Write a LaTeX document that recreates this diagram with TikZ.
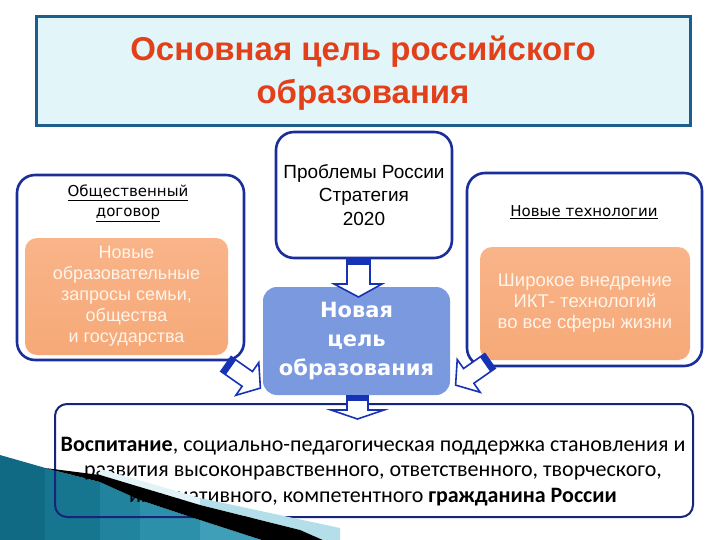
\documentclass[tikz,border=0pt]{standalone}
\usepackage{fontspec}
\setmainfont{Liberation Sans}
\newfontfamily\dvs{DejaVu Sans}
\newfontfamily\carl{Carlito}
\definecolor{titlered}{HTML}{E2401A}
\definecolor{titlefill}{HTML}{E2F5F8}
\definecolor{titleborder}{HTML}{1D5F8C}
\definecolor{boxblue}{HTML}{1A2E9A}
\definecolor{orangefill}{HTML}{F6A978}
\definecolor{orangetop}{HTML}{F9B489}
\definecolor{goalblue}{HTML}{7B99DF}
\definecolor{arrowblue}{HTML}{1733B5}
\definecolor{softwhite}{HTML}{FFF4EA}
\definecolor{tA}{HTML}{116A83}
\definecolor{tB}{HTML}{17768F}
\definecolor{tC}{HTML}{21839D}
\definecolor{tD}{HTML}{2D90AA}
\definecolor{tE}{HTML}{3F9FB8}
\definecolor{paleA}{HTML}{E2F3F8}
\definecolor{paleB}{HTML}{B3DEEA}
\tikzset{
  roundbox/.style={draw=boxblue, line width=2.6pt, rounded corners=18pt, fill=white},
  orangebox/.style={rounded corners=12pt, top color=orangetop, bottom color=orangefill, draw=none, text=softwhite, align=center},
  lbl/.style={align=center, inner sep=0pt},
  hollowarrow/.style={draw=arrowblue, line width=1.6pt, fill=white, line join=miter},
  pics/blockarrow/.style={code={
    \path[hollowarrow] (0,-9) -- (26,-9) -- (26,-20) -- (42,0) -- (26,20) -- (26,9) -- (0,9) -- cycle;
    \fill[arrowblue] (0,-9) rectangle (6,9);
  }}
}
\begin{document}
\begin{tikzpicture}[x=1pt,y=-1pt]
\useasboundingbox[fill=white] (0,0) rectangle (720,540);

% title
\node[draw=titleborder, line width=3pt, fill=titlefill, minimum width=654pt, minimum height=109pt, inner sep=0pt] (title) at (363,71.5) {};
\node[lbl, text=titlered, font=\fontsize{33}{43}\selectfont\bfseries] (titletext) at (363,73.5) {Основная цель российского\\образования};

% left box
\node[roundbox, minimum width=227pt, minimum height=185pt] (left) at (130.5,267.5) {};
\node[lbl, font=\dvs\fontsize{15}{20}\selectfont] (lefthead) at (128,203) {\underline{Общественный}\\\underline{договор}};
\node[orangebox, minimum width=203pt, minimum height=117pt, font=\fontsize{18}{21}\selectfont] (leftorange) at (126.5,296.5) {Новые\\образовательные\\запросы семьи,\\общества\\и государства};

% right box
\node[roundbox, minimum width=235pt, minimum height=193pt] (right) at (584.5,269.5) {};
\node[lbl, font=\dvs\fontsize{15}{20}\selectfont] (righthead) at (584,212) {\underline{Новые технологии}};
\node[orangebox, minimum width=210pt, minimum height=113pt, font=\fontsize{18.5}{21}\selectfont] (rightorange) at (585,303.5) {Широкое внедрение\\ИКТ- технологий\\во все сферы жизни};

% center top
\node[roundbox, minimum width=176pt, minimum height=126pt, font=\fontsize{19}{23.5}\selectfont, align=center] (problems) at (364,195) {Проблемы России\\Стратегия\\2020};

% goal
\node[fill=goalblue, rounded corners=14pt, minimum width=187pt, minimum height=108pt, text=white, align=center, font=\dvs\bfseries\fontsize{21}{29}\selectfont] (goal) at (356.5,341) {Новая\\цель\\образования};

% down arrow problems -> goal
\path[hollowarrow] (347,258) -- (370,258) -- (370,284) -- (382,284) -- (358.5,297) -- (334,284) -- (347,284) -- cycle;
\fill[arrowblue] (347,257) rectangle (370,265);

% side arrows
\pic[rotate=-35] at (226,364) {blockarrow};
\pic[rotate=215] at (490,361) {blockarrow};

% decoration: teal wedge, darker at left
\fill[tA] (0,455) -- (45.5,468) -- (45.5,541) -- (0,541) -- cycle;
\fill[tB] (45,468) -- (100.5,482.2) -- (100.5,541) -- (45,541) -- cycle;
\fill[tC] (100,482) -- (140.5,500.2) -- (140.5,541) -- (100,541) -- cycle;
\fill[tD] (140,500) -- (200.5,520.2) -- (200.5,541) -- (140,541) -- cycle;
\fill[tE] (200,520) -- (265,541) -- (200,541) -- cycle;

% bottom box
\node[draw=boxblue!80!black, line width=2pt, rounded corners=12pt, minimum width=638pt, minimum height=113pt] (result) at (374,460.5) {};
\node[lbl, font=\carl\fontsize{22}{25.5}\selectfont] (resulttext) at (373,471.5) {\textbf{Воспитание}, социально-педагогическая поддержка становления и\\развития высоконравственного, ответственного, творческого,\\инициативного, компетентного \textbf{гражданина России}};

% decoration: pale band and black stripe on top
\fill[paleA] (100,469) -- (200.5,498) -- (200.5,505.2) -- (140,487) -- (100,475) -- cycle;
\fill[paleB] (200,498) -- (340,528) -- (340,541) -- (325,541) -- (300,530) -- (200,505) -- cycle;
\fill[black] (45,468) -- (100,475) -- (140,487) -- (200,505) -- (300,530) -- (325,541) -- (265,541) -- (200,520) -- (140,500) -- (100,482) -- cycle;

% down arrow goal -> result
\path[hollowarrow] (347,396) -- (368,396) -- (368,410) -- (384,410) -- (357.5,419) -- (331,410) -- (347,410) -- cycle;
\fill[arrowblue] (347,395) rectangle (368,401);
\end{tikzpicture}
\end{document}
